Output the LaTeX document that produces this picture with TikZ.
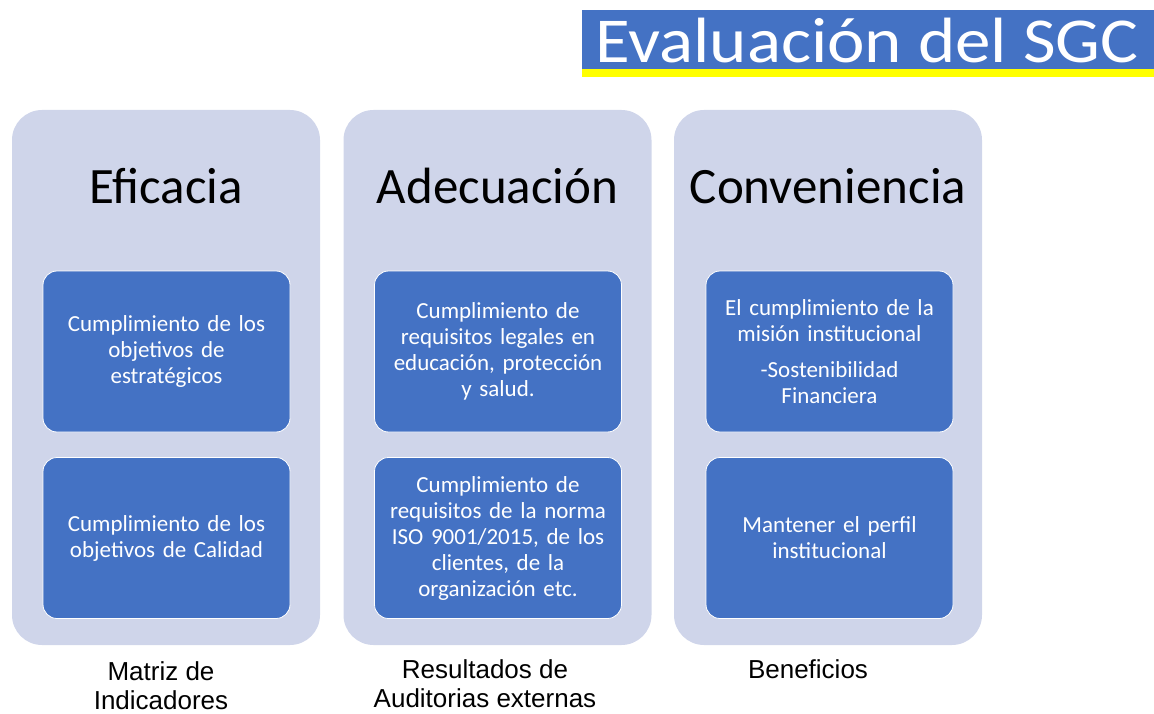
\documentclass[tikz,border=0pt]{standalone}
\usepackage{fontspec}
\setmainfont{Carlito}
\newfontfamily\arialf{Liberation Sans}
\definecolor{outerc}{HTML}{CFD5EA}
\definecolor{innerc}{HTML}{4472C4}
\definecolor{ylw}{HTML}{FFFF00}
\begin{document}
\begin{tikzpicture}[x=1pt,y=-1pt,
  outerbox/.style={fill=outerc,draw=none,rounded corners=30pt,minimum width=308pt,minimum height=535pt,inner sep=0pt},
  innerbox/.style={fill=innerc,draw=white,line width=0.8pt,rounded corners=14pt,minimum width=247pt,minimum height=161pt,text width=240pt,align=center,text=white,font=\fontsize{23}{26}\selectfont,inner sep=0pt},
  heading/.style={font=\fontsize{51}{60}\selectfont,anchor=base,inner sep=0pt},
  bottomlabel/.style={font=\arialf\fontsize{26}{29}\selectfont,align=center,anchor=north,inner sep=0pt}]
\useasboundingbox (0,0) rectangle (1154,714);
% title
\fill[innerc] (582,10) rectangle (1154,69);
\fill[ylw] (582,69) rectangle (1154,77);
\node[font=\fontsize{64}{70}\selectfont,text=white,anchor=base,inner sep=0pt] (title) at (867,63) {\scalebox{1.11}[1]{Evaluación del SGC}};
% columns
\node[outerbox] (c1) at (166,377.5) {};
\node[outerbox] (c2) at (497.5,377.5) {};
\node[outerbox] (c3) at (828,377.5) {};
\node[heading] (h1) at (166,204) {Eficacia};
\node[heading] (h2) at (497.5,204) {Adecuación};
\node[heading] (h3) at (828,204) {Conveniencia};
% inner boxes
\node[innerbox] (b1a) at (166.5,351.5) {Cumplimiento de los\\ objetivos de\\ estratégicos};
\node[innerbox] (b1b) at (166.5,538) {Cumplimiento de los\\ objetivos de Calidad};
\node[innerbox] (b2a) at (498,351.5) {Cumplimiento de\\ requisitos legales en\\ educación, protección\\ y salud.};
\node[innerbox] (b2b) at (498,538) {Cumplimiento de\\ requisitos de la norma\\ ISO 9001/2015, de los\\ clientes, de la\\ organización etc.};
\node[innerbox] (b3a) at (829.5,351.5) {El cumplimiento de la\\ misión institucional\\[10pt] -Sostenibilidad\\ Financiera};
\node[innerbox] (b3b) at (829.5,538) {Mantener el perfil\\ institucional};
% bottom labels
\node[bottomlabel] (l1) at (161,661.5) {Matriz de\\ Indicadores};
\node[bottomlabel] (l2) at (485,659) {Resultados de\\ Auditorias externas};
\node[bottomlabel] (l3) at (808,659) {Beneficios};
\end{tikzpicture}
\end{document}
